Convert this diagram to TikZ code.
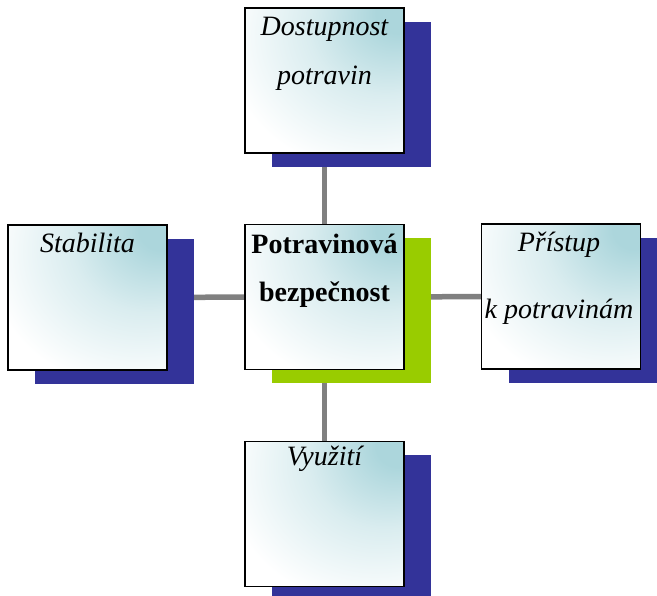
\documentclass[tikz,border=0pt]{standalone}
\usepackage{fontspec}
\setmainfont{Liberation Serif}
\usetikzlibrary{shadows}
\definecolor{tealc}{RGB}{172,214,220}
\definecolor{shblue}{RGB}{51,51,153}
\definecolor{shgreen}{RGB}{153,204,0}
\definecolor{linegray}{RGB}{128,128,128}
\pgfdeclareradialshading{boxshade}{\pgfpoint{25bp}{25bp}}{color(0bp)=(tealc); color(7bp)=(tealc); color(24bp)=(tealc!45!white); color(45bp)=(white); color(100bp)=(white)}
\pgfdeclarelayer{bg}
\pgfsetlayers{bg,main}
\tikzset{
  box/.style={rectangle, minimum width=159pt, minimum height=145pt, inner sep=0pt,
    draw=black, line width=1.4pt, shading=boxshade},
  blueshadow/.style={general shadow={fill=shblue, draw=none, shadow xshift=27pt, shadow yshift=-14pt}},
  greenshadow/.style={general shadow={fill=shgreen, draw=none, shadow xshift=27pt, shadow yshift=-14pt}},
  txt/.style={font=\fontsize{28}{34}\selectfont\itshape, inner sep=0pt, anchor=base, text=black},
  btxt/.style={font=\fontsize{28}{34}\selectfont\bfseries, inner sep=0pt, anchor=base, text=black},
  conn/.style={draw=linegray, line width=5.5pt}
}
\begin{document}
\begin{tikzpicture}[x=1pt,y=-1pt]
\useasboundingbox (0,0) rectangle (657,596);
\clip (0,0) rectangle (657,596);
% boxes
\node[box, blueshadow] (top) at (324.5,80.5) {};
\node[box, blueshadow] (left) at (87.5,297.5) {};
\node[box, blueshadow] (right) at (561,296.5) {};
\node[box, blueshadow] (bottom) at (324.5,514) {};
\node[box, greenshadow] (center) at (324.5,297) {};
% texts
\node[txt] (topA) at (324.5,36) {Dostupnost};
\node[txt] (topB) at (324.5,85) {potravin};
\node[btxt] (cenA) at (324.5,254) {Potravinová};
\node[btxt] (cenB) at (324.5,302) {bezpečnost};
\node[txt] (leftA) at (87.5,253) {Stabilita};
\node[txt] (rightA) at (559,252) {Přístup};
\node[txt] (rightB) at (559,319) {k potravinám};
\node[txt] (botA) at (324.5,466) {Využití};
% connectors
\begin{pgfonlayer}{bg}
\draw[conn] (center.center) -- (top.center);
\draw[conn] (center.center) -- (left.center);
\draw[conn] (center.center) -- (right.center);
\draw[conn] (center.center) -- (bottom.center);
\end{pgfonlayer}
\end{tikzpicture}
\end{document}
